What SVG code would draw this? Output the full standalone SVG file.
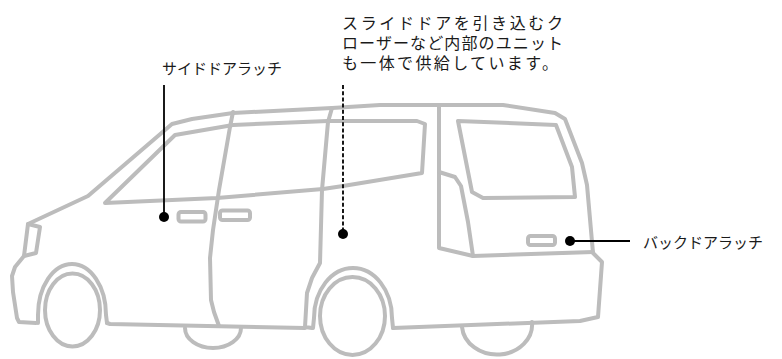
<svg xmlns="http://www.w3.org/2000/svg" width="782" height="359" viewBox="0 0 782 359">
  <style>
    .car { fill: none; stroke: #bcbcbc; stroke-width: 4; stroke-linejoin: round; stroke-linecap: round; }
    .lead { fill: none; stroke: #000; stroke-width: 1.8; }
    .dash { stroke-dasharray: 4 2.2; }
    .dot { fill: #000; }
    .label { font-family: "Noto Sans CJK JP", "Noto Sans", sans-serif; font-size: 15px; fill: #1a1a1a; }
    .note { font-family: "Noto Sans CJK JP", "Noto Sans", sans-serif; font-size: 16px; fill: #1a1a1a; }
  </style>
  <rect width="782" height="359" fill="#fff"/>

  <!-- minivan outline -->
  <g id="van" class="car">
    <!-- far-side wheels peeking under the body -->
    <path d="M 185,328 A 28 20 0 0 0 241,328"/>
    <path d="M 462,327 A 35 30 0 0 0 532,322"/>
    <!-- front contour, hood, windshield pillar, roof, rear and bumper -->
    <path d="M 36,323 L 19,322 L 17,318 L 13,292 L 12,276 L 15,267 L 24,256 L 28,224 L 88,196 L 172,124 L 192,119 L 233,113 L 332,108 L 380,105 L 503,105 L 555,113 L 565,119 L 582,163 L 587,185 L 593,253 L 602,262 L 598,317 L 580,321 L 393,328"/>
    <!-- headlight -->
    <path d="M 28,224 L 40,227 L 36,253 L 24,256"/>
    <!-- side glass outline and belt line -->
    <path d="M 422,173 L 343,186 L 323,189 L 217,198 L 105,203 L 175,135 L 233,125 L 328,121 L 417,121 L 425,124 Z"/>
    <!-- front door / sliding door seam -->
    <path d="M 233,112 L 230,127 L 219,190 L 213,230 L 210,258 L 211,300 L 214,312 L 219,326"/>
    <!-- sliding door rear edge -->
    <path d="M 332,108 L 328,122 L 322,190 L 320,263 L 312,278 L 307,293 L 305,327 L 312,328"/>
    <!-- rocker line -->
    <path d="M 107,323 L 110,324 L 305,328"/>
    <!-- wheel arches -->
    <path d="M 38,323 L 38,315 A 34 51 0 0 1 106,315 L 107,323"/>
    <path d="M 313,328 L 314,318 A 39 50 0 0 1 392,318 L 393,328"/>
    <!-- wheels -->
    <ellipse cx="72.5" cy="310" rx="27.5" ry="36.5"/>
    <ellipse cx="352.5" cy="316" rx="32.5" ry="39"/>
    <!-- rear pillar and back door edge -->
    <path d="M 439,106 L 439,248 L 473,256 L 593,252"/>
    <path d="M 439,172 L 455,177 L 461,186 L 468,222 L 473,256"/>
    <!-- back window -->
    <path d="M 458,121 L 556,125 L 572,167 L 575,197 L 483,198 L 472,192 Z"/>
    <!-- door handles -->
    <rect x="178.5" y="212" width="27" height="9.5" rx="2.5"/>
    <rect x="220" y="210.5" width="30" height="9.5" rx="2.5"/>
    <rect x="528" y="236" width="27" height="9" rx="2.5"/>
  </g>

  <!-- leader lines -->
  <g id="connectors">
    <line class="lead" x1="164" y1="85" x2="164" y2="217"/>
    <line class="lead dash" x1="343" y1="85" x2="343" y2="234"/>
    <line class="lead" x1="570" y1="241" x2="630" y2="241"/>
  </g>

  <g id="side-door-latch">
    <circle class="dot" cx="164" cy="217" r="5"/>
    <text class="label" x="162" y="74">サイドドアラッチ</text>
  </g>

  <g id="sliding-door-unit">
    <circle class="dot" cx="343" cy="234" r="5"/>
    <text class="note">
      <tspan x="342" y="29" textLength="221" lengthAdjust="spacing">スライドドアを引き込むク</tspan>
      <tspan x="342" y="49" textLength="221" lengthAdjust="spacing">ローザーなど内部のユニット</tspan>
      <tspan x="342" y="69" textLength="216" lengthAdjust="spacing">も一体で供給しています。</tspan>
    </text>
  </g>

  <g id="back-door-latch">
    <circle class="dot" cx="570" cy="241" r="5"/>
    <text class="label" x="643" y="248">バックドアラッチ</text>
  </g>
</svg>
